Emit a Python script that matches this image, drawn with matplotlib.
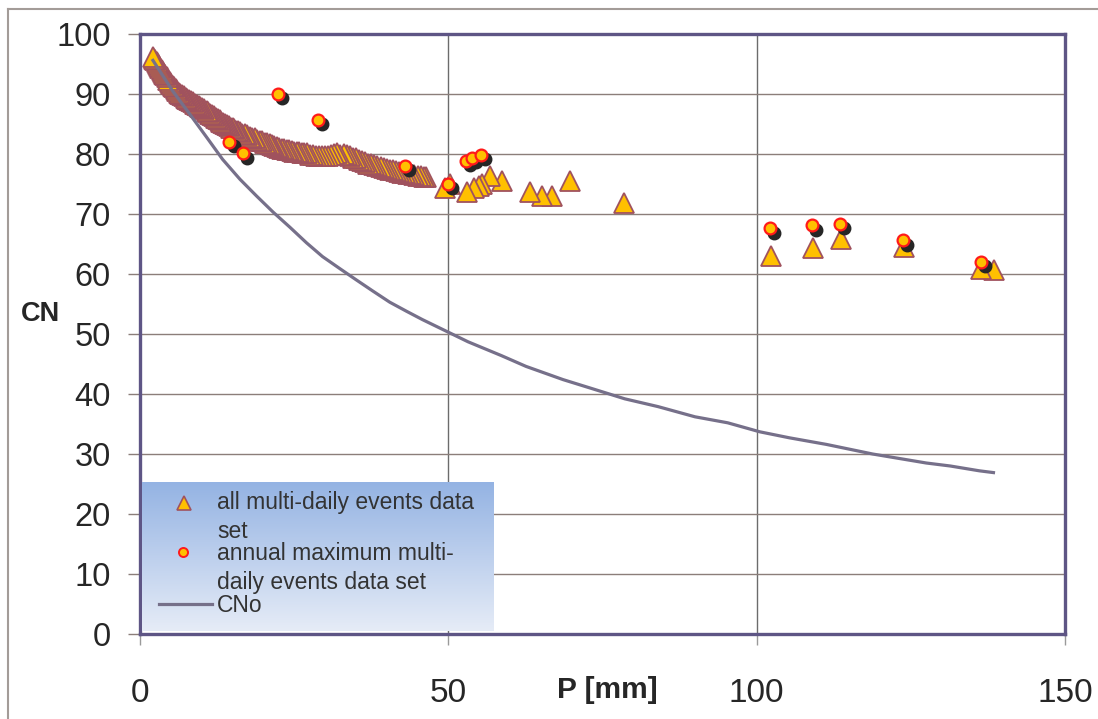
import numpy as np
import matplotlib
matplotlib.use("Agg")
import matplotlib.pyplot as plt
from matplotlib.lines import Line2D
from matplotlib.transforms import ScaledTranslation

# all multi-daily events (triangles)
p_all = [2.1, 2.3, 2.5, 2.7, 2.9, 3.1, 3.3, 3.5, 3.7, 3.9, 4.1, 4.3, 4.6, 4.8, 5.0, 5.3,
         5.5, 5.8, 6.0, 6.3, 6.5, 6.8, 7.1, 7.4, 7.7, 8.0, 8.3, 8.6, 8.9, 9.2, 9.5, 9.8,
         10.1, 10.4, 10.8, 11.1, 11.4, 11.7, 12.0, 12.3, 12.6, 12.9, 13.2, 13.5, 13.8,
         14.1, 14.4, 14.7, 15.0, 15.3, 15.6, 15.9, 16.2, 16.6, 17.0, 17.4, 17.8, 18.2,
         18.6, 19.0, 19.4, 19.8, 20.2, 20.6, 21.0, 21.4, 21.8, 22.2, 22.6, 23.0, 23.4,
         23.8, 24.2, 24.6, 25.0, 25.4, 25.8, 26.2, 26.6, 27.0, 27.5, 28.0, 28.5, 29.0,
         29.5, 30.0, 30.5, 31.0, 31.5, 32.0, 32.5, 33.0, 33.5, 34.0, 34.5, 35.0, 35.5,
         36.0, 36.5, 37.0, 37.5, 38.0, 38.5, 39.0, 39.5, 40.0, 40.5, 41.0, 41.5, 42.0,
         42.5, 43.0, 43.5, 44.0, 44.5, 45.0, 45.5, 46.0, 46.4,
         49.5, 50.3, 53.0, 54.1, 54.9, 55.5, 56.8, 58.7, 63.3, 65.2, 66.8, 69.8, 78.5,
         102.3, 109.2, 113.6, 123.9, 136.4, 138.5]
cn_all = [96.2, 95.9, 95.6, 95.3, 95.0, 94.6, 94.3, 94.0, 93.7, 93.4, 93.1, 92.8, 92.3,
          92.0, 91.7, 91.3, 91.1, 90.8, 90.5, 90.2, 90.0, 89.8, 89.6, 89.4, 89.2, 89.0,
          88.8, 88.6, 88.4, 88.2, 88.0, 87.8,
          87.6, 87.5, 87.2, 87.0, 86.7, 86.5, 86.3, 86.0, 85.9, 85.6, 85.4, 85.2, 85.0,
          84.8, 84.6, 84.4, 84.3, 84.1, 83.9, 83.8, 83.6, 83.4, 83.3, 83.1, 82.9, 82.7,
          82.6, 82.4, 82.2, 82.1, 81.9, 81.8, 81.6, 81.5, 81.3, 81.2, 81.0, 80.9, 80.8,
          80.7, 80.6, 80.5, 80.4, 80.3, 80.3, 80.2, 80.1, 80.1, 79.9, 79.8, 79.7, 79.7,
          79.6, 79.7, 79.6, 79.9, 80.0, 80.1, 79.8, 80.0, 79.9, 79.6, 79.4, 79.3, 79.0,
          78.8, 78.6, 78.4, 78.3, 78.1, 78.0, 77.8, 77.7, 77.5, 77.4, 77.3, 77.2, 77.0,
          76.9, 76.8, 76.7, 76.6, 76.5, 76.4, 76.3, 76.2, 76.1,
          74.4, 75.0, 73.6, 74.4, 74.7, 75.0, 76.3, 75.5, 73.6, 73.0, 73.0, 75.5, 71.9,
          63.0, 64.4, 65.9, 64.5, 60.8, 60.7]

# annual maximum multi-daily events (circles)
p_max = [14.5, 16.7, 22.35, 28.9, 43.0, 49.9, 52.9, 53.8, 55.3,
         102.2, 109.0, 113.5, 123.7, 136.3]
cn_max = [82.0, 80.1, 90.0, 85.7, 78.0, 75.0, 78.9, 79.4, 79.8,
          67.6, 68.1, 68.4, 65.6, 62.0]

# CNo curve
p_cno = [2.1, 5.3, 8.1, 10.8, 13.4, 16.2, 18.9, 21.6, 24.3, 27.0, 29.6, 32.4, 35.1,
         37.7, 40.5, 43.2, 45.8, 49.8, 53.2, 58.6, 62.6, 68.6, 73.3, 78.6, 84.0, 90.0,
         95.3, 100.5, 105.3, 111.3, 118.8, 127.5, 131.4, 136.1, 138.4]
cn_cno = [95.6, 90.5, 86.6, 82.8, 79.1, 75.8, 73.0, 70.3, 67.8, 65.2, 62.9, 60.9, 59.0,
          57.2, 55.3, 53.8, 52.4, 50.4, 48.7, 46.4, 44.6, 42.4, 40.9, 39.2, 37.9, 36.2,
          35.2, 33.7, 32.7, 31.6, 30.0, 28.5, 28.0, 27.2, 26.9]

x_ticks = [0, 50, 100, 150]
y_ticks = list(range(0, 101, 10))

W, H = 1098, 719
fig = plt.figure(figsize=(W / 100, H / 100), dpi=100)
fig.patch.set_facecolor("white")

fam = ["Liberation Sans", "DejaVu Sans"]

# outer frame of the chart (top and left only visible)
fig.add_artist(Line2D([8 / W, 1], [1 - 9 / H, 1 - 9 / H], transform=fig.transFigure,
                      color="#a39c98", lw=1.5))
fig.add_artist(Line2D([8 / W, 8 / W], [0, 1 - 9 / H], transform=fig.transFigure,
                      color="#a39c98", lw=1.5))

ax = fig.add_axes([140 / W, 1 - 634 / H, (1065 - 140) / W, (634 - 34) / H])
ax.set_xlim(0, 150)
ax.set_ylim(0, 100)
ax.set_xticks(x_ticks)
ax.set_yticks(y_ticks)

for s in ax.spines.values():
    s.set_color("#5e5585")
    s.set_linewidth(2.4)
    s.set_zorder(8)

ax.grid(axis="y", color="#8b7e7a", lw=1.0, zorder=0)
ax.grid(axis="x", color="#6c6c6c", lw=1.0, zorder=0)
ax.set_axisbelow(True)

ax.tick_params(axis="y", direction="out", length=9, width=1, color="#8b7e7a",
               pad=12, labelsize=23.5, labelcolor="#262626")
ax.tick_params(axis="x", direction="out", length=8, width=1, color="#9a9a9a",
               pad=24, labelsize=24, labelcolor="#262626")
for lbl in ax.get_yticklabels() + ax.get_xticklabels():
    lbl.set_family(fam)

# data: triangles drawn right to left so the band looks like the original
ax.plot(p_all[::-1], cn_all[::-1], ls="none", marker="^", ms=15, mfc="#ffc000",
        mec="#a0525e", mew=1.3, zorder=3, clip_on=False)
ax.plot(p_cno, cn_cno, color="#76708a", lw=2.3, zorder=4)
shadow = ax.transData + ScaledTranslation(3 / 72, -3 / 72, fig.dpi_scale_trans)
ax.plot(p_max, cn_max, ls="none", marker="o", ms=8.5, mfc="#262626", mec="#262626",
        mew=1.5, zorder=5, transform=shadow)
ax.plot(p_max, cn_max, ls="none", marker="o", ms=8.5, mfc="#ffc000", mec="#ff1a1a",
        mew=1.6, zorder=6)

# axis titles
fig.text(41 / W, 1 - 314 / H, "CN", fontsize=19.5, fontweight="bold", color="#262626",
         ha="center", va="center", family=fam)
fig.text(607 / W, 1 - 690 / H, "P [mm]", fontsize=21.5, fontweight="bold",
         color="#262626", ha="center", va="center", family=fam)

# legend box with vertical gradient
lg = fig.add_axes([142 / W, 1 - 631 / H, (494 - 142) / W, (631 - 482) / H])
lg.set_zorder(10)
grad = np.linspace(0, 1, 256).reshape(-1, 1)
top_c = np.array([0x94, 0xb3, 0xe3]) / 255
bot_c = np.array([0xe6, 0xec, 0xf7]) / 255
img = top_c[None, None, :] * (1 - grad[:, :, None]) + bot_c[None, None, :] * grad[:, :, None]
lg.imshow(img, extent=[142, 494, 631, 482], aspect="auto")
lg.set_xlim(142, 494)
lg.set_ylim(631, 482)
lg.axis("off")

lg.plot([184], [503], marker="^", ms=10, mfc="#ffc000", mec="#a0525e", mew=1.2)
lg.plot([183], [552], marker="o", ms=6.5, mfc="#ffc000", mec="#ff1a1a", mew=1.4)
lg.plot([159, 212], [604, 604], color="#76708a", lw=2.3)
for y, t in [(502, "all multi-daily events data"), (532, "set"),
             (553, "annual maximum multi-"), (583, "daily events data set"),
             (605, "CNo")]:
    lg.text(217, y, t, fontsize=16.5, color="#333333", va="center", ha="left", family=fam)

fig.savefig("out.png", dpi=100)
